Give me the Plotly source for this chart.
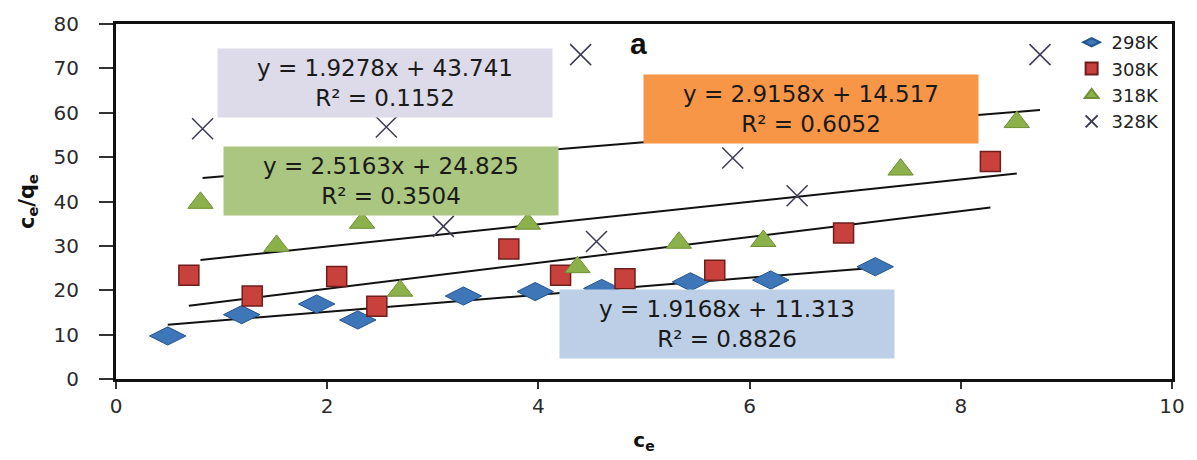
import numpy as np
import plotly.graph_objects as go

# Isotherm data: c_e (x) against c_e/q_e (y) at four temperatures
series_names = ["298K", "308K", "318K", "328K"]

ce_298 = [0.49, 1.19, 1.90, 2.29, 3.29, 3.97, 4.60, 5.44, 6.20, 7.19]
ratio_298 = [9.7, 14.5, 16.9, 13.3, 18.7, 19.7, 20.4, 21.9, 22.3, 25.3]

ce_308 = [0.69, 1.29, 2.09, 2.47, 3.72, 4.21, 4.82, 5.67, 6.89, 8.28]
ratio_308 = [23.4, 18.7, 23.1, 16.4, 29.3, 23.4, 22.6, 24.5, 32.9, 49.0]

ce_318 = [0.80, 1.52, 2.33, 2.69, 3.90, 4.37, 5.33, 6.13, 7.43, 8.53]
ratio_318 = [39.7, 30.0, 35.2, 19.9, 35.0, 25.2, 30.7, 31.1, 47.2, 57.9]

ce_328 = [0.82, 2.56, 3.10, 4.40, 4.55, 5.84, 6.45, 8.75]
ratio_328 = [56.4, 56.8, 34.4, 73.1, 31.0, 49.8, 41.3, 73.1]

# Linear fits as reported on the chart
slopes = [1.9168, 2.9158, 2.5163, 1.9278]
intercepts = [11.313, 14.517, 24.825, 43.741]
r_squared = ["0.8826", "0.6052", "0.3504", "0.1152"]

x_ticks = [0, 2, 4, 6, 8, 10]
y_ticks = [0, 10, 20, 30, 40, 50, 60, 70, 80]

xs = [ce_298, ce_308, ce_318, ce_328]
ys = [ratio_298, ratio_308, ratio_318, ratio_328]

marker_styles = [
    dict(symbol="diamond-wide", size=26, color="#3f76b8", line=dict(color="#24548c", width=1)),
    dict(symbol="square", size=20, color="#c8413d", line=dict(color="#6e1f1c", width=1.5)),
    dict(symbol="triangle-up", size=22, color="#8db14a", line=dict(color="#6f8f36", width=1)),
    dict(symbol="x-thin", size=21, color="#3b3b55", line=dict(color="#3b3b55", width=1.5)),
]

fig = go.Figure()

# Trend lines spanning each series' c_e range
for xv, m, b in zip(xs, slopes, intercepts):
    xline = np.array([min(xv), max(xv)])
    fig.add_trace(go.Scatter(
        x=xline, y=m * xline + b, mode="lines",
        line=dict(color="#111111", width=2), showlegend=False, hoverinfo="skip",
    ))

for name, xv, yv, mk in zip(series_names, xs, ys, marker_styles):
    fig.add_trace(go.Scatter(x=xv, y=yv, mode="markers", name=name, marker=mk))

# Equation labels: (series index, center x, center y, fill colour)
label_boxes = [
    (3, 2.55, 66.8, "#dddbe9"),
    (2, 2.60, 44.7, "#abc680"),
    (1, 6.58, 60.9, "#f79646"),
    (0, 5.79, 12.4, "#bccfe6"),
]
for idx, cx, cy, fill in label_boxes:
    fig.add_annotation(
        x=cx, y=cy, xref="x", yref="y", showarrow=False,
        text=f"y = {slopes[idx]}x + {intercepts[idx]}<br>R² = {r_squared[idx]}",
        font=dict(family="DejaVu Sans", size=23, color="#1a1a1a"),
        bgcolor=fill, width=334, height=68, borderpad=0, align="center",
    )

fig.add_annotation(
    x=4.95, y=75.5, xref="x", yref="y", showarrow=False,
    text="<b>a</b>", font=dict(family="Liberation Sans", size=30, color="#111111"),
)

fig.update_layout(
    width=1197, height=460,
    margin=dict(l=116, r=23, t=24, b=76),
    plot_bgcolor="white", paper_bgcolor="white",
    font=dict(family="DejaVu Sans", color="#222222"),
    legend=dict(
        x=0.993, y=1.0, xanchor="right", yanchor="top",
        bgcolor="rgba(0,0,0,0)", font=dict(size=18, color="#222222"),
        itemsizing="constant", tracegroupgap=0, itemwidth=30,
    ),
    xaxis=dict(
        range=[0, 10], tickvals=x_ticks, showgrid=False, zeroline=False,
        showline=True, linecolor="#111111", linewidth=3, mirror=True,
        ticks="outside", ticklen=7, tickcolor="#333333", tickwidth=2,
        tickfont=dict(size=20, color="#2a2a2a"),
        title=dict(text="<b>c<sub>e</sub></b>", font=dict(size=20, color="#111111"), standoff=16),
    ),
    yaxis=dict(
        range=[0, 80], tickvals=y_ticks, showgrid=False, zeroline=False,
        showline=True, linecolor="#111111", linewidth=3, mirror=True,
        ticks="outside", ticklen=14, tickcolor="#333333", tickwidth=2,
        ticklabelstandoff=16,
        tickfont=dict(size=20, color="#2a2a2a"),
        title=dict(text="<b>c<sub>e</sub>/q<sub>e</sub></b>", font=dict(size=21, color="#111111"), standoff=14),
    ),
)

fig.write_html("out.html")
